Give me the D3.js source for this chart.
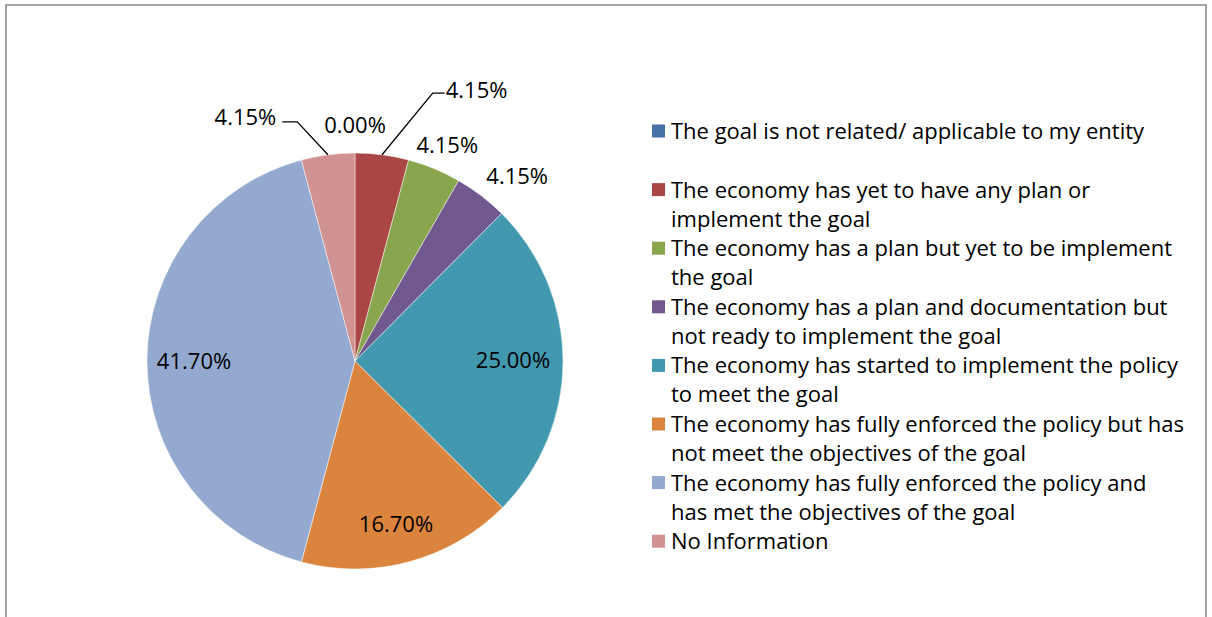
<!DOCTYPE html>
<html>
<head>
<meta charset="utf-8">
<script src="https://cdn.jsdelivr.net/npm/d3@7"></script>
<style>
  body { margin: 0; background: #fff; }
  svg { display: block; }
</style>
</head>
<body>
<div id="chart"></div>
<script>
// slice data, clockwise from 12 o'clock
const categories = [
  "The goal is not related/ applicable to my entity",
  "The economy has yet to have any plan or implement the goal",
  "The economy has a plan but yet to be implement the goal",
  "The economy has a plan and documentation but not ready to implement the goal",
  "The economy has started to implement the policy to meet the goal",
  "The economy has fully enforced the policy but has not meet the objectives of the goal",
  "The economy has fully enforced the policy and has met the objectives of the goal",
  "No Information"
];
const values = [0.00, 4.15, 4.15, 4.15, 25.00, 16.70, 41.70, 4.15];
const labels = ["0.00%", "4.15%", "4.15%", "4.15%", "25.00%", "16.70%", "41.70%", "4.15%"];

// legend text as it wraps in the picture
const legendLines = [
  ["The goal is not related/ applicable to my entity"],
  ["The economy has yet to have any plan or", "implement the goal"],
  ["The economy has a plan but yet to be implement", "the goal"],
  ["The economy has a plan and documentation but", "not ready to implement the goal"],
  ["The economy has started to implement the policy", "to meet the goal"],
  ["The economy has fully enforced the policy but has", "not meet the objectives of the goal"],
  ["The economy has fully enforced the policy and", "has met the objectives of the goal"],
  ["No Information"]
];

const colors = ["#4572A7", "#AA4643", "#89A54E", "#71588F", "#4198AF", "#DB843D", "#93A9CF", "#D19392"];

// where each data label goes: inside, outside or with a leader line
// r = radius, da = angle shift in degrees from the slice middle
const labelPlace = [
  {type: "out", r: 236, da: 0},
  {type: "leader", r: 279, da: 8.7, run: 12},
  {type: "out", r: 235, da: 0.7},
  {type: "out", r: 246, da: 3.9},
  {type: "in", r: 158, da: 0},
  {type: "in", r: 168, da: 1},
  {type: "in", r: 161, da: 0},
  {type: "leader", r: 246, da: -6.1, run: -15}
];

const W = 1212, H = 617;
const cx = 355, cy = 361, R = 208;
const font = "'Open Sans', 'Noto Sans', sans-serif";
const fontSize = 22;

const svg = d3.select("#chart").append("svg")
  .attr("width", W)
  .attr("height", H);

// chart area frame (bottom edge is cut off)
svg.append("rect")
  .attr("x", 6).attr("y", 5)
  .attr("width", 1200).attr("height", 640)
  .attr("fill", "none")
  .attr("stroke", "#8c8c8c")
  .attr("stroke-width", 1.6);

const color = d3.scaleOrdinal().domain(categories).range(colors);

const pie = d3.pie().sort(null).value(d => d.value);
const rows = categories.map((c, i) => ({cat: c, value: values[i], label: labels[i], place: labelPlace[i]}));
const arcs = pie(rows);

const arc = d3.arc().innerRadius(0).outerRadius(R);

const g = svg.append("g").attr("transform", `translate(${cx},${cy})`);

g.selectAll("path.slice")
  .data(arcs)
  .join("path")
  .attr("class", "slice")
  .attr("d", arc)
  .attr("fill", d => color(d.data.cat))
  .attr("stroke", "#ffffff")
  .attr("stroke-width", 0.6)
  .attr("stroke-opacity", 0.8);

// point on a circle of radius r at the slice middle (+ shift)
function polar(d, r, da) {
  const a = (d.startAngle + d.endAngle) / 2 + da * Math.PI / 180;
  return d3.arc().innerRadius(r).outerRadius(r).centroid({startAngle: a, endAngle: a});
}

const labelG = g.append("g")
  .attr("font-family", font)
  .attr("font-size", fontSize)
  .attr("fill", "#000");

arcs.forEach(d => {
  const p = d.data.place;
  if (p.type === "leader") {
    const start = polar(d, R, 0);
    const elbow = polar(d, p.r, p.da);
    const end = [elbow[0] + p.run, elbow[1]];
    labelG.append("path")
      .attr("d", d3.line()([start, elbow, end]))
      .attr("fill", "none")
      .attr("stroke", "#000")
      .attr("stroke-width", 1.3);
    const right = p.run > 0;
    labelG.append("text")
      .attr("x", end[0] + (right ? 1 : -6))
      .attr("y", elbow[1] + (right ? -3 : -5))
      .attr("dy", "0.36em")
      .attr("text-anchor", right ? "start" : "end")
      .text(d.data.label);
  } else {
    const c = polar(d, p.r, p.da);
    labelG.append("text")
      .attr("x", c[0])
      .attr("y", c[1])
      .attr("dy", "0.36em")
      .attr("text-anchor", "middle")
      .text(d.data.label);
  }
});

// legend
const legY = d3.scalePoint()
  .domain(categories)
  .range([131, 131 + 58.6 * (categories.length - 1)]);

const leg = svg.append("g")
  .attr("font-family", font)
  .attr("font-size", fontSize)
  .attr("fill", "#000");

const item = leg.selectAll("g.item")
  .data(categories)
  .join("g")
  .attr("class", "item")
  .attr("transform", d => `translate(652,${legY(d)})`);

item.append("rect")
  .attr("x", 0).attr("y", -6.5)
  .attr("width", 13).attr("height", 13)
  .attr("fill", d => color(d));

item.append("text")
  .attr("x", 19)
  .selectAll("tspan")
  .data((d, i) => legendLines[i])
  .join("tspan")
  .attr("x", 19)
  .attr("y", (t, j) => j * 29)
  .attr("dy", "0.36em")
  .text(t => t);
</script>
</body>
</html>
